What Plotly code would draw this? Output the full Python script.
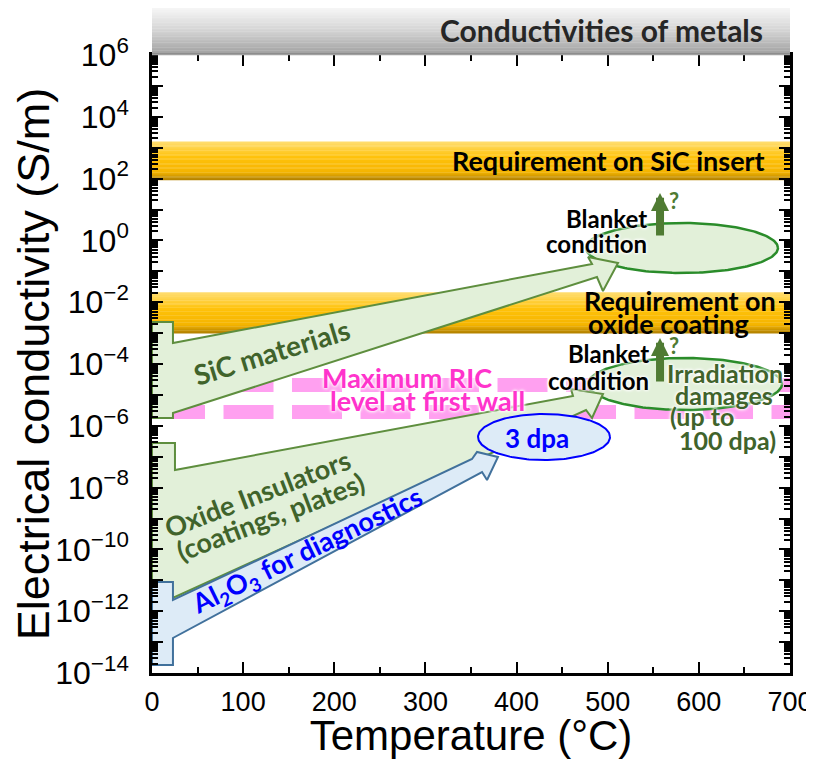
import numpy as np
import plotly.graph_objects as go

# ---------------- data (temperature in degC, conductivity in S/m) ----------------
x_tick_vals = [0, 100, 200, 300, 400, 500, 600, 700]
y_tick_exps = list(range(-14, 7))            # major ticks every decade
y_label_exps = list(range(-14, 7, 2))        # labels every other decade

# horizontal bands (S/m)
metals_band = [1e6, 3.3e7]
sic_req_band = [9.0e1, 1.6e3]
oxide_req_band = [1.0e-3, 2.1e-2]

# maximum radiation-induced conductivity at first wall (two dashed rows)
ric_T = [3.3, 700]
ric_rows_S = [2.1e-5, 2.8e-6]

# block arrows: vertices (T in degC, log10 of S/m)
sic_arrow_T = [0, 23.0, 23.0, 482.8, 478.4, 511.3, 494.8, 488.2, 23.0, 23.0, 0]
sic_arrow_logS = [-2.641, -2.641, -3.320, -0.764, -0.537, -0.731, -1.638, -1.184, -5.586, -5.748, -5.748]

oxide_arrow_T = [0, 25.2, 25.2, 461.9, 459.7, 494.8, 482.8, 476.2, 25.2, 0]
oxide_arrow_logS = [-6.557, -6.557, -7.430, -5.036, -4.809, -4.971, -5.748, -5.489, -11.540, -11.540]

al2o3_arrow_T = [0, 23.0, 23.0, 351.1, 356.6, 379.6, 367.6, 362.1, 23.0, 23.0, 0]
al2o3_arrow_logS = [-11.055, -11.055, -11.638, -7.074, -6.848, -7.010, -7.754, -7.495, -12.867, -13.741, -13.741]

# ellipses: centre T, centre log10 S, half width (degC), half height (decades)
sic_blanket_ellipse = [581.5, -0.246, 105.3, 0.809]
oxide_blanket_ellipse = [584.8, -4.647, 106.4, 0.841]
dpa3_ellipse = [430.1, -6.362, 72.4, 0.744]

# "increase under blanket condition" arrows: T, tail log10 S, head log10 S
sic_up_arrow = [557.4, 0.110, 1.534]
oxide_up_arrow = [557.4, -4.615, -3.159]

# ---------------- colours ----------------
GREEN_FILL = '#E2F0D9'
GREEN_EDGE = '#5E8E3E'
ELLIPSE_EDGE = '#2A8C2A'
GREEN_TEXT = '#40632B'
ARROW_GREEN = '#4F7B33'
BLUE_FILL = '#DDEBF7'
BLUE_EDGE = '#41719C'
BLUE_TEXT = '#0000FF'
PINK = '#FFA0F0'
MAGENTA = '#FF33CC'

FONT_TXT = 'Lato, "Open Sans", sans-serif'
FONT_AX = '"Liberation Sans", Arial, sans-serif'
GLOW = '0px 0px 3px #ffffff, 0px 0px 3px #ffffff, 0px 0px 4px #ffffff'

fig = go.Figure()


def interp_color(stops, t):
    for (t0, c0), (t1, c1) in zip(stops[:-1], stops[1:]):
        if t0 <= t <= t1:
            f = (t - t0) / (t1 - t0) if t1 > t0 else 0
            c = [round(a + (b - a) * f) for a, b in zip(c0, c1)]
            return 'rgb(%d,%d,%d)' % tuple(c)
    return 'rgb(%d,%d,%d)' % tuple(stops[-1][1])


ORANGE_STOPS = [(0.0, (255, 222, 115)), (0.4, (255, 194, 10)), (0.8, (245, 180, 0)), (1.0, (176, 128, 0))]
GRAY_STOPS = [(0.0, (246, 246, 246)), (0.5, (210, 210, 210)), (1.0, (158, 158, 158))]

shapes = []


def add_gradient_band(lo, hi, stops, n=30):
    l0, l1 = np.log10(lo), np.log10(hi)
    for i in range(n):
        a = l1 - (l1 - l0) * i / n
        b = l1 - (l1 - l0) * (i + 1) / n
        shapes.append(dict(type='rect', xref='x', yref='y', x0=0, x1=700,
                           y0=10 ** (b - 0.01), y1=10 ** a, line=dict(width=0),
                           fillcolor=interp_color(stops, (i + 0.5) / n), layer='below'))


def add_gradient_band_above(lo, hi, stops, n=30):
    # band above the top of the axis (drawn in paper units derived from log values)
    rng = (-14, 6)
    l0, l1 = np.log10(lo), np.log10(hi)
    for i in range(n):
        a = l1 - (l1 - l0) * i / n
        b = l1 - (l1 - l0) * (i + 1) / n
        shapes.append(dict(type='rect', xref='x', yref='paper', x0=0, x1=700,
                           y0=(b - 0.01 - rng[0]) / (rng[1] - rng[0]),
                           y1=(a - rng[0]) / (rng[1] - rng[0]), line=dict(width=0),
                           fillcolor=interp_color(stops, (i + 0.5) / n), layer='above'))


add_gradient_band(*sic_req_band, ORANGE_STOPS)
add_gradient_band(*oxide_req_band, ORANGE_STOPS)
add_gradient_band_above(*metals_band, GRAY_STOPS)

# RIC dashed rows
for s in ric_rows_S:
    fig.add_trace(go.Scatter(x=ric_T, y=[s, s], mode='lines', hoverinfo='skip',
                             line=dict(color=PINK, width=14, dash='50px,18.5px')))


def ellipse_trace(p, edge, fill, width=2.5):
    t = np.linspace(0, 2 * np.pi, 200)
    xs = p[0] + p[2] * np.cos(t)
    ys = 10 ** (p[1] + p[3] * np.sin(t))
    return go.Scatter(x=xs, y=ys, mode='lines', fill='toself', fillcolor=fill,
                      line=dict(color=edge, width=width), hoverinfo='skip')


def poly_trace(T, logS, edge, fill):
    return go.Scatter(x=T + [T[0]], y=[10 ** v for v in logS + [logS[0]]], mode='lines',
                      fill='toself', fillcolor=fill, line=dict(color=edge, width=2),
                      hoverinfo='skip')


fig.add_trace(ellipse_trace(sic_blanket_ellipse, ELLIPSE_EDGE, GREEN_FILL))
fig.add_trace(ellipse_trace(oxide_blanket_ellipse, ELLIPSE_EDGE, GREEN_FILL))
fig.add_trace(poly_trace(sic_arrow_T, sic_arrow_logS, GREEN_EDGE, GREEN_FILL))
fig.add_trace(poly_trace(oxide_arrow_T, oxide_arrow_logS, GREEN_EDGE, GREEN_FILL))
fig.add_trace(poly_trace(al2o3_arrow_T, al2o3_arrow_logS, BLUE_EDGE, BLUE_FILL))
fig.add_trace(ellipse_trace(dpa3_ellipse, '#0000FF', BLUE_FILL, width=2))

ann = []


def txt(text, x, logy, color='#000000', size=25, xanchor='center', angle=0, glow=False, yref='y'):
    f = dict(family=FONT_TXT, size=size, color=color, weight='bold')
    if glow:
        f['shadow'] = GLOW
    ann.append(dict(text=text, x=x, y=logy, xref='x', yref=yref, showarrow=False,
                    xanchor=xanchor, yanchor='middle', textangle=angle, font=f))


txt('Conductivities of metals', 672.6, 1.0405, color='#262626', size=30, xanchor='right', yref='paper')
txt('Requirement on SiC insert', 674.8, 2.602, size=27, xanchor='right')
txt('Requirement on', 578.8, -1.929, size=27)
txt('oxide coating', 567.2, -2.673, size=27)
txt('Blanket', 545.3, 0.725, size=24, xanchor='right', glow=True)
txt('condition', 545.3, -0.084, size=24, xanchor='right', glow=True)
txt('?', 572.7, 1.307, color=ARROW_GREEN, size=22)
txt('Blanket', 547.5, -3.644, size=24, xanchor='right', glow=True)
txt('condition', 547.5, -4.518, size=24, xanchor='right', glow=True)
txt('?', 572.7, -3.385, color=ARROW_GREEN, size=22)
txt('Irradiation', 628.7, -4.291, color=GREEN_TEXT, glow=True)
txt('damages', 627.6, -5.003, color=GREEN_TEXT, glow=True)
txt('(up to', 566.1, -5.683, color=GREEN_TEXT, xanchor='left', glow=True)
txt('100 dpa)', 686.8, -6.460, color=GREEN_TEXT, xanchor='right', glow=True)
txt('Maximum RIC', 279.8, -4.421, color=MAGENTA, size=27, glow=True)
txt('level at first wall', 302.8, -5.197, color=MAGENTA, size=27, glow=True)
txt('SiC materials', 130.6, -3.612, color=GREEN_TEXT, size=28, angle=-17)
txt('Oxide Insulators', 115.2, -8.175, color=GREEN_TEXT, size=27, angle=-21)
txt('(coatings, plates)', 129.5, -8.919, color=GREEN_TEXT, size=27, angle=-21)
txt('Al<sub>2</sub>O<sub>3</sub> for diagnostics', 170.1, -10.052, color=BLUE_TEXT, size=27, angle=-26)
txt('3 dpa', 422.4, -6.395, color=BLUE_TEXT, size=26)

for a in (sic_up_arrow, oxide_up_arrow):
    ann.append(dict(x=a[0], y=a[2], ax=a[0], ay=a[1], xref='x', yref='y', axref='x', ayref='y',
                    text='', showarrow=True, arrowhead=2, arrowsize=0.45, arrowwidth=8,
                    arrowcolor=ARROW_GREEN, standoff=0, startstandoff=0))

fig.update_layout(
    width=806, height=751,
    margin=dict(l=144, r=24, t=47, b=86, autoexpand=False),
    paper_bgcolor='white', plot_bgcolor='white',
    showlegend=False,
    shapes=shapes,
    annotations=ann,
    xaxis=dict(range=[0, 700], tickvals=x_tick_vals, ticks='inside', ticklen=11, tickwidth=2,
               tickcolor='black', showline=True, linecolor='black', linewidth=2.5, mirror='allticks',
               showgrid=False, zeroline=False, ticklabelstandoff=3, automargin=False,
               ticklabeloverflow='allow',
               tickfont=dict(family=FONT_AX, size=27, color='black'),
               minor=dict(tickvals=list(range(50, 700, 100)), ticks='inside', ticklen=6,
                          tickwidth=2, tickcolor='black'),
               title=dict(text='Temperature (°C)', font=dict(family=FONT_AX, size=42, color='black'),
                          standoff=19)),
    yaxis=dict(type='log', range=[-14, 6], tickvals=[10.0 ** e for e in y_tick_exps],
               ticktext=[('10<sup>%s</sup>' % str(e).replace('-', '\u2212')) if e in y_label_exps else ''
                         for e in y_tick_exps],
               ticks='inside', ticklen=11, tickwidth=2, tickcolor='black',
               showline=True, linecolor='black', linewidth=2.5, mirror='allticks',
               showgrid=False, zeroline=False, ticklabelstandoff=14, automargin=False,
               ticklabeloverflow='allow',
               tickfont=dict(family=FONT_AX, size=32, color='black'),
               minor=dict(tickvals=[k * 10.0 ** e for e in y_tick_exps[:-1] for k in range(2, 10)],
                          ticks='inside', ticklen=6, tickwidth=1.5, tickcolor='black'),
               title=dict(text='Electrical conductivity (S/m)',
                          font=dict(family=FONT_AX, size=45, color='black'), standoff=2)),
)

fig.write_html('out.html')
